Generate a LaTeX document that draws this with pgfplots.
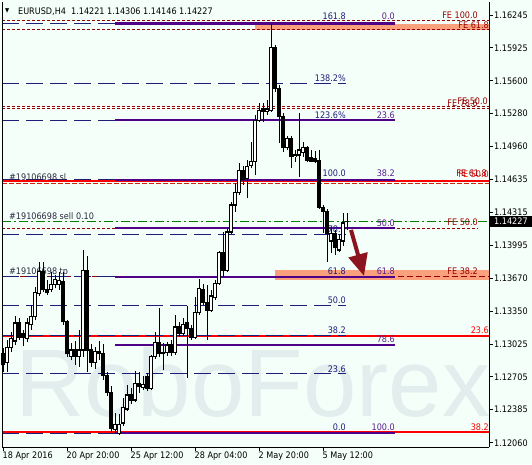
\documentclass[border=0pt]{standalone}
\usepackage{pgfplots}
\pgfplotsset{compat=1.18}
\usepackage{pgfplotstable}
\usepackage{fontspec}
\setmainfont{DejaVu Sans Condensed}
\newfontfamily\wmfont{Liberation Sans}
\usetikzlibrary{arrows.meta}

\definecolor{bg}{RGB}{245,255,250}
\definecolor{navyl}{RGB}{30,30,120}
\definecolor{fibp}{RGB}{80,0,135}
\definecolor{fibt}{RGB}{90,30,140}
\definecolor{fel}{RGB}{150,0,0}
\definecolor{fer}{RGB}{200,40,10}
\definecolor{redl}{RGB}{255,0,0}
\definecolor{salm}{RGB}{250,160,125}
\definecolor{wm}{RGB}{226,237,237}
\definecolor{ordc}{RGB}{40,40,60}
\definecolor{arrc}{RGB}{140,20,30}
\definecolor{grn}{RGB}{0,128,0}

% EURUSD H4 candles: bar index, open, high, low, close
\pgfplotstableread{
i o h l c
0 1.12930 1.12989 1.12754 1.12832
1 1.12842 1.13067 1.12754 1.12998
2 1.12998 1.13145 1.12949 1.13077
3 1.13057 1.13302 1.13018 1.13233
4 1.13233 1.13282 1.13067 1.13096
5 1.13135 1.13165 1.13008 1.13096
6 1.13086 1.13282 1.13047 1.13233
7 1.13214 1.13409 1.13165 1.13292
8 1.13292 1.13585 1.13262 1.13527
9 1.13517 1.13830 1.13497 1.13732
10 1.13732 1.13830 1.13536 1.13556
11 1.13556 1.13654 1.13507 1.13527
12 1.13556 1.13732 1.13536 1.13605
13 1.13614 1.13703 1.13575 1.13654
14 1.13605 1.13732 1.13556 1.13644
15 1.13634 1.13732 1.13214 1.13243
16 1.13243 1.13262 1.12901 1.12930
17 1.12910 1.13038 1.12871 1.12969
18 1.12969 1.13057 1.12822 1.12910
19 1.12901 1.13165 1.12803 1.12969
20 1.12969 1.13947 1.12901 1.13742
21 1.13742 1.13888 1.12754 1.12969
22 1.12969 1.13028 1.12803 1.12842
23 1.12842 1.12998 1.12783 1.12959
24 1.12959 1.13057 1.12871 1.12930
25 1.12930 1.13028 1.12676 1.12715
26 1.12715 1.12754 1.12519 1.12549
27 1.12549 1.12617 1.12167 1.12206
28 1.12196 1.12353 1.12157 1.12245
29 1.12148 1.12343 1.12138 1.12245
30 1.12255 1.12500 1.12226 1.12402
31 1.12392 1.12627 1.12372 1.12529
32 1.12529 1.12597 1.12441 1.12480
33 1.12480 1.12764 1.12460 1.12637
34 1.12646 1.12754 1.12549 1.12617
35 1.12607 1.12715 1.12578 1.12627
36 1.12705 1.12744 1.12568 1.12597
37 1.12597 1.12920 1.12578 1.12901
38 1.12901 1.13145 1.12881 1.13047
39 1.13047 1.13380 1.12901 1.12930
40 1.12949 1.13038 1.12773 1.12930
41 1.12940 1.13047 1.12910 1.13018
42 1.13018 1.13067 1.12910 1.12949
43 1.12949 1.13311 1.12920 1.13194
44 1.13194 1.13243 1.13096 1.13135
45 1.13135 1.13282 1.13106 1.13214
46 1.13233 1.13399 1.12695 1.13184
47 1.13184 1.13214 1.13067 1.13096
48 1.13096 1.13487 1.13077 1.13331
49 1.13331 1.13663 1.13311 1.13566
50 1.13556 1.13614 1.13409 1.13438
51 1.13438 1.13605 1.13067 1.13360
52 1.13360 1.13556 1.13341 1.13497
53 1.13478 1.13654 1.13458 1.13624
54 1.13624 1.13937 1.13605 1.13918
55 1.13918 1.14123 1.13683 1.13751
56 1.13751 1.14152 1.13732 1.14123
57 1.14123 1.14416 1.14104 1.14387
58 1.14387 1.14602 1.14319 1.14514
59 1.14514 1.14798 1.14485 1.14729
60 1.14729 1.14769 1.14583 1.14632
61 1.14651 1.14827 1.14456 1.14759
62 1.14778 1.15003 1.14749 1.14817
63 1.14817 1.15267 1.14681 1.15218
64 1.15218 1.15385 1.15199 1.15316
65 1.15326 1.15385 1.15199 1.15297
66 1.15306 1.15414 1.15267 1.15326
67 1.15316 1.16162 1.15297 1.15923
68 1.15923 1.15952 1.15492 1.15522
69 1.15522 1.15561 1.14994 1.15248
70 1.15248 1.15287 1.14905 1.14945
71 1.14945 1.15062 1.14925 1.15033
72 1.15033 1.15062 1.14749 1.14857
73 1.14857 1.14925 1.14808 1.14876
74 1.14876 1.15287 1.14661 1.14925
75 1.14905 1.15003 1.14857 1.14954
76 1.14954 1.14964 1.14808 1.14827
77 1.14847 1.14925 1.14808 1.14817
78 1.14837 1.14915 1.14798 1.14817
79 1.14827 1.14925 1.14348 1.14367
80 1.14367 1.14387 1.14113 1.14319
81 1.14319 1.14348 1.13830 1.14113
82 1.14035 1.14172 1.13918 1.14113
83 1.14104 1.14143 1.13898 1.13967
84 1.13947 1.14094 1.13927 1.14045
85 1.14035 1.14309 1.13986 1.14211
86 1.14221 1.14306 1.14146 1.14227
}\candles

\newcommand{\hl}[4]{\addplot[forget plot,#1] coordinates {(#2,#4) (#3,#4)};}
\tikzset{lab/.style={font=\fontsize{9}{10}\selectfont, inner sep=0pt, anchor=base east},
         labw/.style={font=\fontsize{9}{10}\selectfont, inner sep=0pt, anchor=base west}}

\begin{document}
\begin{tikzpicture}
\path[use as bounding box, fill=bg] (-2pt,-17pt) rectangle (530pt,447pt);
\begin{axis}[
  scale only axis, width=487pt, height=445pt,
  xmin=2, xmax=489, ymin=1.120203, ymax=1.163724,
  axis x line*=bottom, axis y line*=right,
  axis line style={black, line width=1pt, -},
  x axis line style={-}, y axis line style={-},
  tick align=outside, major tick length=4pt,
  tick style={black, line width=1pt},
  xtick={3,67,131,195,259,323},
  xticklabels={18 Apr 2016, 20 Apr 20:00, 25 Apr 12:00, 28 Apr 04:00, 2 May 20:00, 5 May 12:00},
  ytick={1.12060,1.12385,1.12705,1.13025,1.13350,1.13670,1.13995,1.14315,1.14635,1.14960,1.15280,1.15600,1.15925,1.16245},
  yticklabels={1.12060,1.12385,1.12705,1.13025,1.13350,1.13670,1.13995,1.14315,1.14635,1.14960,1.15280,1.15600,1.15925,1.16245},
  tick label style={font=\fontsize{9}{10}\selectfont, text=black},
  xticklabel style={anchor=north west, inner sep=0pt, xshift=-0.5pt, yshift=-1pt},
  yticklabel style={anchor=west, inner sep=0pt, xshift=1pt},
  clip=false,
]
% watermark
\node[anchor=base west, inner sep=0pt, text=wm, font=\wmfont\fontsize{96}{96}\selectfont] at (axis cs:15,1.12314) {RoboForex};

% zones
\addplot[forget plot, fill=salm, draw=none] coordinates {(255,1.16099) (489,1.16099) (489,1.16157) (255,1.16157) (255,1.16099)};
\addplot[forget plot, fill=salm, draw=none] coordinates {(275,1.13654) (489,1.13654) (489,1.13751) (275,1.13751) (275,1.13654)};

% red solid levels
\hl{redl, line width=2pt}{2}{489}{1.14622}
\hl{redl, line width=2pt}{2}{489}{1.13106}
\hl{redl, line width=2pt}{2}{489}{1.12167}

% FE dotted levels
\hl{fel, line width=1pt, dash pattern=on 3pt off 2pt}{2}{489}{1.16187}
\hl{fel, line width=1pt, dash pattern=on 3pt off 2pt}{2}{489}{1.16099}
\hl{fel, line width=1pt, dash pattern=on 3pt off 2pt}{2}{489}{1.15346}
\hl{fel, line width=1pt, dash pattern=on 3pt off 2pt}{2}{489}{1.15326}
\hl{fel, line width=1pt, dash pattern=on 3pt off 2pt}{2}{478}{1.14162}
\hl{fer, line width=1pt, dash pattern=on 5pt off 2pt}{2}{489}{1.14593}
\hl{fel, line width=1pt, dash pattern=on 6pt off 3pt}{2}{489}{1.13683}

% order line
\hl{grn, line width=1pt, dash pattern=on 9pt off 3pt on 2pt off 3pt}{2}{489}{1.14221}

% Fibonacci expansion (dashed navy)
\hl{navyl, line width=1pt, dash pattern=on 17pt off 7pt}{2}{346}{1.16160}
\hl{navyl, line width=1pt, dash pattern=on 17pt off 7pt}{2}{346}{1.15580}
\hl{navyl, line width=1pt, dash pattern=on 17pt off 7pt}{2}{346}{1.15218}
\hl{navyl, line width=1pt, dash pattern=on 17pt off 7pt}{2}{346}{1.14632}
\hl{navyl, line width=1pt, dash pattern=on 17pt off 7pt}{2}{346}{1.14103}
\hl{navyl, line width=1pt, dash pattern=on 17pt off 7pt}{2}{346}{1.13683}
\hl{navyl, line width=1pt, dash pattern=on 17pt off 7pt}{2}{346}{1.13400}
\hl{navyl, line width=1pt, dash pattern=on 17pt off 7pt}{2}{346}{1.13106}
\hl{navyl, line width=1pt, dash pattern=on 17pt off 7pt}{2}{346}{1.12744}
\hl{navyl, line width=1pt, dash pattern=on 17pt off 7pt}{2}{346}{1.12157}

% Fibonacci retracement (solid purple)
\hl{fibp, line width=2.5pt}{115}{395}{1.16160}
\hl{fibp, line width=2.5pt}{115}{395}{1.15218}
\hl{fibp, line width=2.5pt}{115}{395}{1.14632}
\hl{fibp, line width=2.5pt}{115}{395}{1.14162}
\hl{fibp, line width=2.5pt}{115}{395}{1.13683}
\hl{fibp, line width=2.5pt}{115}{395}{1.13018}
\hl{fibp, line width=2.5pt}{115}{395}{1.12157}

% expansion labels
\node[lab, text=navyl, yshift=4pt] at (axis cs:346,1.16160) {161.8};
\node[lab, text=navyl, yshift=1.5pt] at (axis cs:346,1.15580) {138.2\%};
\node[lab, text=navyl, yshift=2pt] at (axis cs:346,1.15218) {123.6\%};
\node[lab, text=navyl, yshift=3pt] at (axis cs:346,1.14632) {100.0};
\node[lab, text=navyl, yshift=2pt] at (axis cs:346,1.14103) {78.6};
\node[lab, text=navyl, yshift=2pt] at (axis cs:346,1.13683) {61.8};
\node[lab, text=navyl, yshift=2pt] at (axis cs:346,1.13400) {50.0};
\node[lab, text=navyl, yshift=2pt] at (axis cs:346,1.13106) {38.2};
\node[lab, text=navyl, yshift=1pt] at (axis cs:346,1.12744) {23.6};
\node[lab, text=navyl, yshift=3pt] at (axis cs:346,1.12157) {0.0};
% retracement labels
\node[lab, text=fibt, yshift=4pt] at (axis cs:395,1.16160) {0.0};
\node[lab, text=fibt, yshift=2pt] at (axis cs:395,1.15218) {23.6};
\node[lab, text=fibt, yshift=3pt] at (axis cs:395,1.14632) {38.2};
\node[lab, text=fibt, yshift=1.5pt] at (axis cs:395,1.14162) {50.0};
\node[lab, text=fibt, yshift=2pt] at (axis cs:395,1.13683) {61.8};
\node[lab, text=fibt, yshift=2pt] at (axis cs:395,1.13018) {78.6};
\node[lab, text=fibt, yshift=3pt] at (axis cs:395,1.12157) {100.0};
% FE labels
\node[lab, text=fel, yshift=2pt] at (axis cs:478,1.16187) {FE 100.0};
\node[lab, text=fel, yshift=1pt] at (axis cs:489,1.16099) {FE 61.8};
\node[lab, text=fel, yshift=2pt] at (axis cs:488,1.15346) {FE 50.0};
\node[lab, text=fel, yshift=2pt] at (axis cs:478,1.15326) {FE 78.6};
\node[lab, text=redl, yshift=6pt] at (axis cs:489,1.14593) {FE 50.0};
\node[lab, text=fel, yshift=7pt] at (axis cs:487,1.14593) {FE 61.8};
\node[lab, text=fel, yshift=3pt] at (axis cs:478,1.14162) {FE 50.0};
\node[lab, text=fel, yshift=2pt] at (axis cs:478,1.13683) {FE 38.2};
\node[lab, text=redl, yshift=2pt] at (axis cs:489,1.13106) {23.6};
\node[lab, text=redl, yshift=2pt] at (axis cs:489,1.12167) {38.2};
% order labels
\node[labw, text=ordc, yshift=0pt] at (axis cs:9,1.14622) {\#19106698 sl};
\node[labw, text=ordc, yshift=2pt] at (axis cs:9,1.14221) {\#19106698 sell 0.10};
\node[labw, text=ordc, yshift=2pt] at (axis cs:9,1.13683) {\#19106698 tp};

% header
\node[anchor=base west, inner sep=0pt, font=\fontsize{6}{6}\selectfont] at (axis cs:5,1.16265) {▼};
\node[labw, text=black] at (axis cs:18,1.16255) {EURUSD,H4\ \ 1.14221 1.14306 1.14146 1.14227};

% candles: wicks
\addplot[forget plot, draw=none, mark=none,
  error bars/.cd, y dir=plus, y explicit, error mark=none,
  error bar style={draw=black, solid, line width=1pt}]
  table[x expr=3+4*\thisrow{i}, y=l, y error plus expr={\thisrow{h}-\thisrow{l}}] {\candles};
% bodies
\addplot[forget plot, draw=none, mark=none,
  error bars/.cd, y dir=plus, y explicit, error mark=none,
  error bar style={draw=black, solid, line width=3.4pt}]
  table[x expr=3+4*\thisrow{i}, y expr={min(\thisrow{o},\thisrow{c})-0.00005}, y error plus expr={abs(\thisrow{c}-\thisrow{o})+0.0001}] {\candles};
% hollow interiors of rising candles
\addplot[forget plot, draw=none, mark=none,
  error bars/.cd, y dir=plus, y explicit, error mark=none,
  error bar style={draw=white, solid, line width=1.4pt}]
  table[x expr=3+4*\thisrow{i}, y expr={\thisrow{o}+0.00005}, y error plus expr={max(\thisrow{c}-\thisrow{o}-0.0001,0)}] {\candles};

% arrow
\draw[arrc, line width=4pt, -{Triangle[width=19pt,length=22pt]}] (axis cs:351,1.14143) -- (axis cs:364,1.13693);

% left border
\draw[black, line width=1pt] (rel axis cs:0,0) -- (rel axis cs:0,1);

% current price box
\node[anchor=west, fill=black, text=white, font=\fontsize{9}{10}\selectfont, inner xsep=5pt, inner ysep=0pt, minimum height=11pt] at (axis cs:489,1.14227) {1.14227};
\end{axis}
\end{tikzpicture}
\end{document}
